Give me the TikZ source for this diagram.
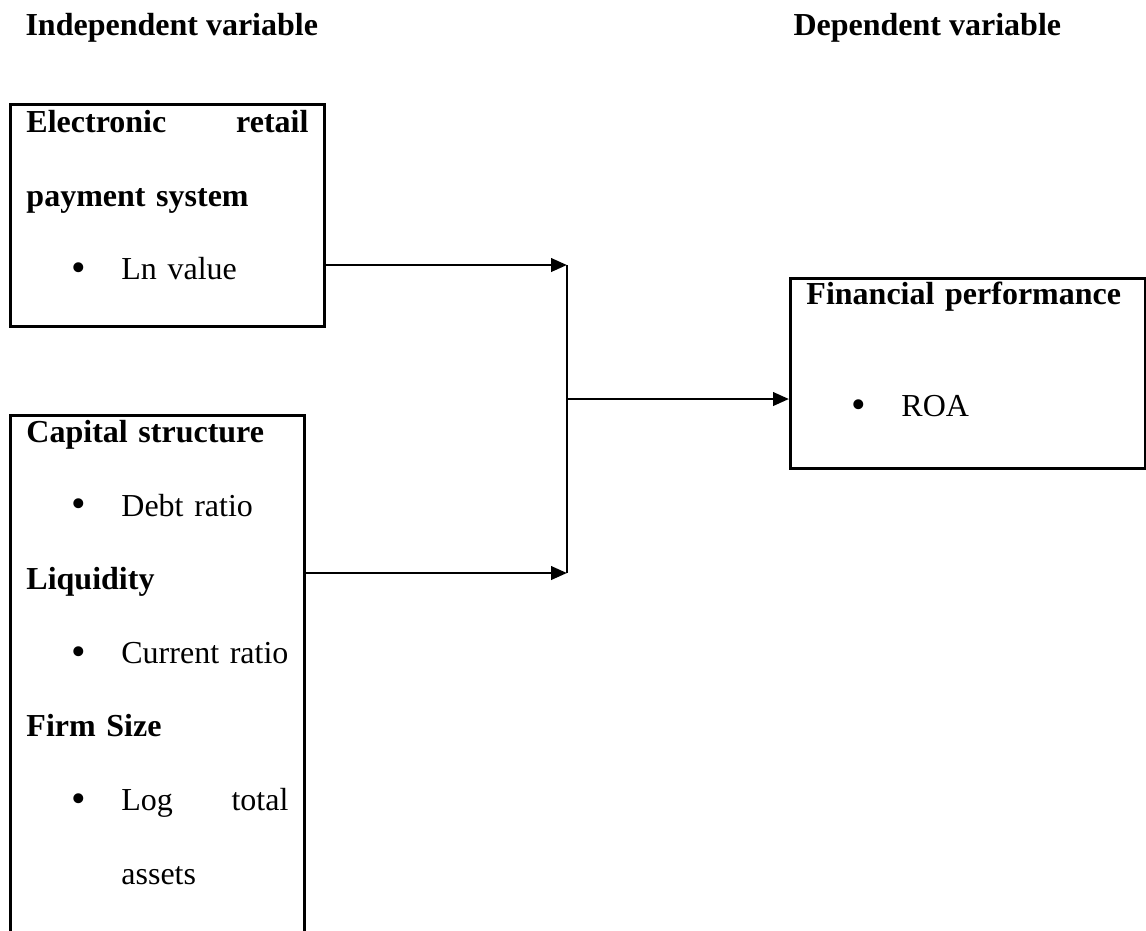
\documentclass[tikz,border=0pt]{standalone}
\usepackage{fontspec}
\usepackage{graphicx}
\setmainfont{Liberation Serif}
\usetikzlibrary{arrows.meta}

\tikzset{
  varbox/.style={draw, line width=1.1pt, anchor=north west, inner xsep=6pt,
    inner ysep=0pt, align=left, font=\fontsize{12}{27.6}\selectfont},
  heading/.style={anchor=base west, inner sep=0pt,
    font=\fontsize{12}{14}\selectfont\bfseries},
  link/.style={line width=1.1pt, -{Triangle[length=6pt,width=5pt]}},
}
\newcommand{\bitem}{\makebox[35.6pt][r]{\raisebox{-0.7pt}{\scalebox{1.3}{\textbullet}}\hspace{13.2pt}}}
\newcommand{\topstrut}[1]{\rule{0pt}{#1}}
\newcommand{\botstrut}[1]{\rule[-#1]{0pt}{#1}}

\begin{document}
\begin{tikzpicture}[x=0.375pt, y=-0.375pt]
    \useasboundingbox (0,0) rectangle (1146,930);
    \clip (0,0) rectangle (1146,930);
    % headings
    \node[heading] (indep) at (25,35) {Independent variable};
    \node[heading] (dep) at (793,35) {Dependent variable};
    % variable boxes
    \node[varbox, text width=105.75pt] (erps) at (9,103)
        {\topstrut{10.5pt}\textbf{Electronic\hfill retail}\\
         \textbf{payment system}\\
         \bitem Ln value\botstrut{17.5pt}};
    \node[varbox, text width=98.25pt] (ctrl) at (9,414)
        {\topstrut{10.1pt}\textbf{Capital structure}\\
         \bitem Debt ratio\\
         \textbf{Liquidity}\\
         \bitem Current ratio\\
         \textbf{Firm Size}\\
         \bitem Log\hfill total\\
         \hspace*{35.6pt}assets\botstrut{60pt}};
    \node[varbox, text width=121.1pt] (perf) at (789,277)
        {\topstrut{9.75pt}\textbf{Financial performance}\\[14.4pt]
         \bitem ROA\botstrut{19.5pt}};
    % connectors
    \coordinate (jtop) at (567,265);
    \coordinate (jbot) at (567,573);
    \coordinate (jmid) at (567,399);
    \draw[link] (erps.east |- jtop) -- (jtop);
    \draw[link] (ctrl.east |- jbot) -- (jbot);
    \draw[line width=0.75pt] (jtop) -- (jbot);
    \draw[link] (jmid) -- (perf.west |- jmid);
\end{tikzpicture}
\end{document}
